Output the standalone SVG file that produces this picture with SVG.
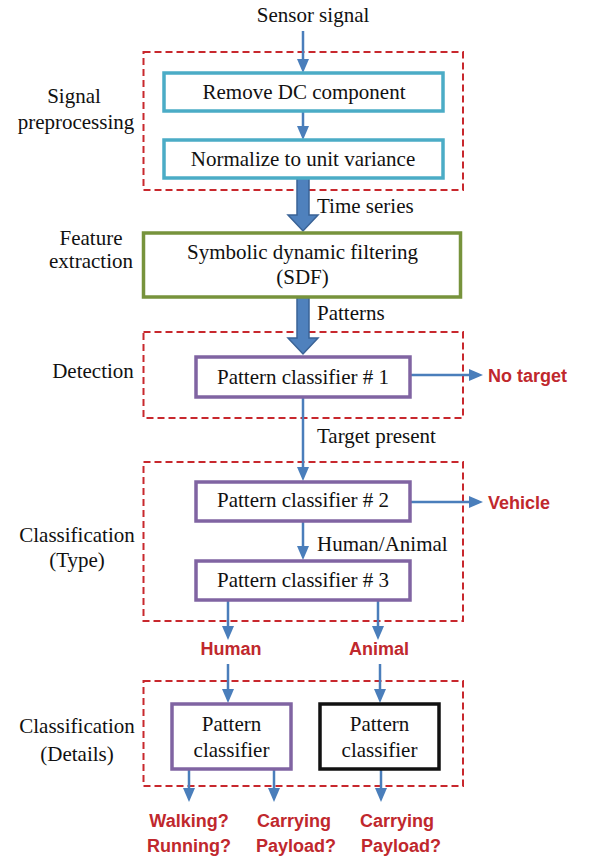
<svg xmlns="http://www.w3.org/2000/svg" width="590" height="861" viewBox="0 0 590 861">
<style>
.t{font-family:"Liberation Serif","Times New Roman",serif;font-size:21px;fill:#111;text-anchor:middle}
.tl{font-family:"Liberation Serif","Times New Roman",serif;font-size:21px;fill:#111}
.r{font-family:"Liberation Sans",Arial,sans-serif;font-size:18px;font-weight:bold;fill:#c0282d;text-anchor:middle}
.rl{font-family:"Liberation Sans",Arial,sans-serif;font-size:18px;font-weight:bold;fill:#c0282d}
.dash{fill:none;stroke:#c8282d;stroke-width:2;stroke-dasharray:7 4}
.teal{fill:#fff;stroke:#4bacc6;stroke-width:3.5}
.green{fill:#fff;stroke:#77933c;stroke-width:3.5}
.purple{fill:#fff;stroke:#8064a2;stroke-width:3.5}
.black{fill:#fff;stroke:#111;stroke-width:3.5}
.a{stroke:#4a7ebb;stroke-width:2.5;fill:none;marker-end:url(#ah)}
.thick{fill:#4f81bd;stroke:#3a6396;stroke-width:1.5}
</style>
<defs>
<marker id="ah" markerUnits="userSpaceOnUse" markerWidth="16" markerHeight="14" refX="10" refY="6" orient="auto">
<path d="M0,0 L14,6 L0,12 z" fill="#4a7ebb"/>
</marker>
</defs>

<g id="stage-labels">
<text class="t" x="74" y="103">Signal</text>
<text class="t" x="76" y="129">preprocessing</text>
<text class="t" x="91" y="245">Feature</text>
<text class="t" x="91" y="268">extraction</text>
<text class="t" x="93" y="378">Detection</text>
<text class="t" x="77" y="542">Classification</text>
<text class="t" x="77" y="567">(Type)</text>
<text class="t" x="77" y="733">Classification</text>
<text class="t" x="77" y="761">(Details)</text>
</g>

<g id="groups">
<rect class="dash" x="143.5" y="52" width="319.5" height="138"/>
<rect class="dash" x="143.5" y="332" width="319.5" height="86"/>
<rect class="dash" x="143.5" y="462" width="319.5" height="159"/>
<rect class="dash" x="143.5" y="681" width="319.5" height="105"/>
</g>

<g id="connectors">
<path class="a" d="M303,31 V69"/>
<path class="a" d="M303,111 V136"/>
<polygon class="thick" points="297,178 309,178 309,215 318,215 303,231 288,215 297,215"/>
<polygon class="thick" points="297,297 309,297 309,338 318,338 303,354 288,338 297,338"/>
<path class="a" d="M410,375 H479"/>
<path class="a" d="M303,397 V477"/>
<path class="a" d="M410,502 H479"/>
<path class="a" d="M303,521 V556"/>
<path class="a" d="M228,600 V636"/>
<path class="a" d="M378,600 V636"/>
<path class="a" d="M228,664 V699"/>
<path class="a" d="M380,664 V699"/>
<path class="a" d="M189,769 V798"/>
<path class="a" d="M274,769 V798"/>
<path class="a" d="M381,769 V798"/>
</g>

<g id="edge-labels">
<text class="t" x="313" y="22">Sensor signal</text>
<text class="tl" x="317" y="213">Time series</text>
<text class="tl" x="317" y="320">Patterns</text>
<text class="tl" x="317" y="443">Target present</text>
<text class="tl" x="317" y="551">Human/Animal</text>
</g>

<g id="n-remove-dc">
<rect class="teal" x="164" y="73" width="279" height="38"/>
<text class="t" x="304" y="99">Remove DC component</text>
</g>
<g id="n-normalize">
<rect class="teal" x="164" y="140" width="279" height="38"/>
<text class="t" x="303" y="166">Normalize to unit variance</text>
</g>
<g id="n-sdf">
<rect class="green" x="143.5" y="233" width="317" height="64"/>
<text class="t" x="302.5" y="259">Symbolic dynamic filtering</text>
<text class="t" x="302.5" y="284">(SDF)</text>
</g>
<g id="n-pc1">
<rect class="purple" x="196" y="357" width="214" height="40"/>
<text class="t" x="303" y="384">Pattern classifier # 1</text>
</g>
<g id="n-notarget">
<text class="rl" x="488" y="382">No target</text>
</g>
<g id="n-pc2">
<rect class="purple" x="196" y="482" width="214" height="39"/>
<text class="t" x="303" y="507">Pattern classifier # 2</text>
</g>
<g id="n-vehicle">
<text class="rl" x="488" y="509">Vehicle</text>
</g>
<g id="n-pc3">
<rect class="purple" x="196" y="561" width="214" height="39"/>
<text class="t" x="303" y="587">Pattern classifier # 3</text>
</g>
<g id="n-human">
<text class="r" x="231" y="655">Human</text>
</g>
<g id="n-animal">
<text class="r" x="379" y="655">Animal</text>
</g>
<g id="n-pc-human">
<rect class="purple" x="172" y="704" width="119" height="65"/>
<text class="t" x="231.5" y="731">Pattern</text>
<text class="t" x="231.5" y="757">classifier</text>
</g>
<g id="n-pc-animal">
<rect class="black" x="320" y="704" width="119" height="65"/>
<text class="t" x="379.5" y="731">Pattern</text>
<text class="t" x="379.5" y="757">classifier</text>
</g>
<g id="n-walking">
<text class="r" x="189" y="827">Walking?</text>
<text class="r" x="189" y="852">Running?</text>
</g>
<g id="n-carry-human">
<text class="r" x="294" y="827">Carrying</text>
<text class="r" x="296" y="852">Payload?</text>
</g>
<g id="n-carry-animal">
<text class="r" x="397" y="827">Carrying</text>
<text class="r" x="401" y="852">Payload?</text>
</g>
</svg>
